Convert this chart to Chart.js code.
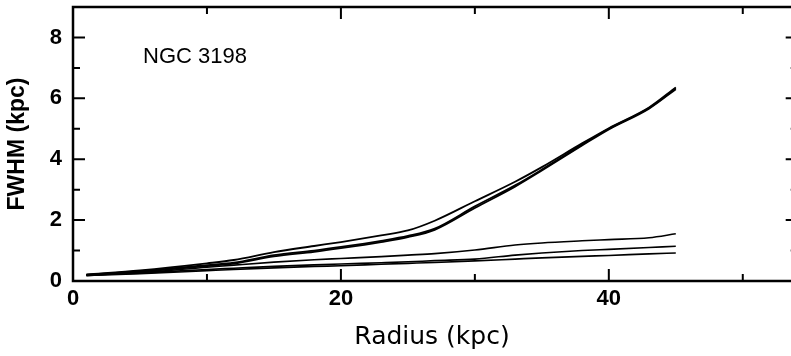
<!DOCTYPE html>
<html>
<head>
<meta charset="utf-8">
<script src="https://cdn.jsdelivr.net/npm/chart.js@4"></script>
<style>
  html, body { margin: 0; padding: 0; background: #fff; }
  #wrap { width: 791px; height: 356px; }
</style>
</head>
<body>
<div id="wrap"><canvas id="chart"></canvas></div>
<script>
// FWHM vs radius, NGC 3198.
var radius = [1, 5, 10, 12, 15, 18, 20, 23, 25, 27, 30, 33, 35, 38, 40, 43, 45];

var upperA = [0.22, 0.35, 0.58, 0.69, 0.95, 1.15, 1.28, 1.5, 1.66, 1.98, 2.62, 3.26, 3.74, 4.52, 5.02, 5.7, 6.36];
var upperB = [0.2, 0.32, 0.52, 0.6, 0.85, 1.0, 1.12, 1.32, 1.48, 1.72, 2.45, 3.14, 3.66, 4.48, 5.0, 5.68, 6.33];
var upperC = [0.18, 0.3, 0.49, 0.57, 0.81, 0.96, 1.08, 1.28, 1.44, 1.68, 2.4, 3.1, 3.63, 4.45, 4.98, 5.66, 6.3];
var lowerA = [0.2, 0.28, 0.45, 0.52, 0.62, 0.7, 0.74, 0.8, 0.85, 0.9, 1.02, 1.18, 1.25, 1.32, 1.36, 1.42, 1.55];
var lowerB = [0.19, 0.26, 0.38, 0.42, 0.48, 0.53, 0.56, 0.6, 0.63, 0.67, 0.72, 0.85, 0.92, 1.0, 1.04, 1.1, 1.14];
var lowerC = [0.18, 0.24, 0.34, 0.38, 0.43, 0.48, 0.5, 0.55, 0.58, 0.61, 0.66, 0.72, 0.76, 0.81, 0.84, 0.89, 0.92];

var xTicksMajor = [0, 20, 40];
var xTicksMinor = [10, 30, 50];
var yTicksMajor = [2, 4, 6, 8];
var yTicksMinor = [1, 3, 5, 7];
var X_MAX = 53.6;   // visible part of the axis (the frame's right side is cropped)
var X_FRAME = 54.1; // where the cropped right frame would sit

var INK = '#000';
var SANS = '"Liberation Sans", Arial, sans-serif';

function pts(ys) {
  return radius.map(function (r, i) { return { x: r, y: ys[i] }; });
}

function series(ys, width) {
  return {
    data: pts(ys),
    borderColor: INK,
    borderWidth: width,
    pointRadius: 0,
    cubicInterpolationMode: 'monotone',
    fill: false
  };
}

// frame (left/top/bottom) + inward ticks on all four sides, plus the in-plot label
var frame = {
  id: 'frame',
  afterDraw: function (chart) {
    var ctx = chart.ctx;
    var a = chart.chartArea;
    var xs = chart.scales.x;
    var ys = chart.scales.y;
    var rightEdge = xs.getPixelForValue(X_FRAME);
    ctx.save();
    ctx.strokeStyle = INK;
    ctx.lineWidth = 2.5;
    ctx.beginPath();
    ctx.moveTo(rightEdge, a.top);
    ctx.lineTo(a.left, a.top);
    ctx.lineTo(a.left, a.bottom);
    ctx.lineTo(rightEdge, a.bottom);
    ctx.lineTo(rightEdge, a.top);
    ctx.stroke();

    ctx.lineWidth = 2;
    ctx.beginPath();
    function xt(v, len) {
      var px = xs.getPixelForValue(v);
      ctx.moveTo(px, a.bottom); ctx.lineTo(px, a.bottom - len);
      ctx.moveTo(px, a.top); ctx.lineTo(px, a.top + len);
    }
    function yt(v, len) {
      var py = ys.getPixelForValue(v);
      ctx.moveTo(a.left, py); ctx.lineTo(a.left + len, py);
      ctx.moveTo(rightEdge, py); ctx.lineTo(rightEdge - len, py);
    }
    xTicksMajor.forEach(function (v) { xt(v, 12); });
    xTicksMinor.forEach(function (v) { xt(v, 7); });
    yTicksMajor.forEach(function (v) { yt(v, 12); });
    yTicksMinor.forEach(function (v) { yt(v, 7); });
    ctx.stroke();

    ctx.fillStyle = INK;
    ctx.font = '22px ' + SANS;
    ctx.textBaseline = 'alphabetic';
    ctx.fillText('NGC 3198', 143, 63);
    ctx.restore();
  }
};

new Chart(document.getElementById('chart'), {
  type: 'line',
  data: {
    datasets: [
      series(upperA, 1.8),
      series(upperB, 1.8),
      series(upperC, 1.8),
      series(lowerA, 1.6),
      series(lowerB, 1.6),
      series(lowerC, 1.6)
    ]
  },
  options: {
    responsive: true,
    maintainAspectRatio: false,
    animation: false,
    layout: { padding: { top: 7, right: 0, left: 0, bottom: 0 } },
    plugins: { legend: { display: false }, tooltip: { enabled: false } },
    scales: {
      x: {
        type: 'linear',
        min: 0,
        max: X_MAX,
        afterFit: function (s) {
          s.height = 75;
          s.paddingLeft = 0;
          s.paddingRight = 0;
        },
        grid: { display: false, drawTicks: false },
        border: { display: false },
        ticks: {
          stepSize: 20,
          includeBounds: false,
          padding: 5,
          color: INK,
          maxRotation: 0,
          font: { family: SANS, size: 22, weight: 'bold' }
        },
        title: {
          display: true,
          text: 'Radius (kpc)',
          color: INK,
          padding: { top: 0, bottom: 4 },
          font: { family: '"DejaVu Sans", sans-serif', size: 25 }
        }
      },
      y: {
        min: 0,
        max: 9,
        afterFit: function (s) {
          s.width = 73;
          s.paddingTop = 0;
          s.paddingBottom = 0;
        },
        grid: { display: false, drawTicks: false },
        border: { display: false },
        ticks: {
          stepSize: 2,
          includeBounds: false,
          padding: 11,
          color: INK,
          font: { family: SANS, size: 22, weight: 'bold' }
        },
        title: {
          display: true,
          text: 'FWHM (kpc)',
          color: INK,
          padding: { top: 4, bottom: 0 },
          font: { family: SANS, size: 23, weight: 'bold' }
        }
      }
    }
  },
  plugins: [frame]
});
</script>
</body>
</html>
